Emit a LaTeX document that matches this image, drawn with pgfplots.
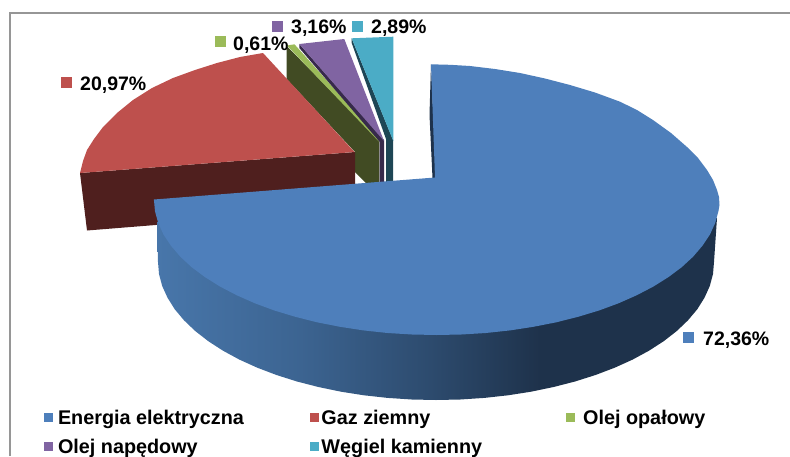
\documentclass[border=0pt]{standalone}
\usepackage{pgfplots}
\pgfplotsset{compat=1.18}
\usepackage{fontspec}
\setmainfont{Liberation Sans}
\definecolor{cblue}{RGB}{78,127,187}
\definecolor{cred}{RGB}{190,80,77}
\definecolor{cgreen}{RGB}{155,187,89}
\definecolor{cpurple}{RGB}{128,100,162}
\definecolor{cteal}{RGB}{75,172,198}
\definecolor{dred}{RGB}{79,31,30}
\definecolor{dgreen}{RGB}{65,75,35}
\definecolor{dpurple}{RGB}{55,42,75}
\definecolor{dteal}{RGB}{30,70,85}
\definecolor{dblue}{RGB}{30,50,75}
\pgfdeclarehorizontalshading{blueside}{100bp}{
  rgb(0bp)=(.282,.463,.667);
  rgb(25bp)=(.282,.463,.667);
  rgb(37.8bp)=(.235,.392,.569);
  rgb(49.4bp)=(.176,.294,.431);
  rgb(59.2bp)=(.118,.196,.294);
  rgb(100bp)=(.118,.196,.294)}
\newcommand{\lab}{\fontsize{19.5}{24}\selectfont\bfseries}
\newcommand{\leg}{\fontsize{19.8}{24}\selectfont\bfseries}
\begin{document}
\begin{tikzpicture}
\useasboundingbox (0,0) rectangle (790pt,456pt);
\begin{axis}[
  at={(0,0)},anchor=south west,
  width=790pt,height=456pt,scale only axis,
  xmin=0,xmax=790,ymin=0,ymax=456,y dir=reverse,
  hide axis,
  legend columns=3,
  legend cell align=left,
  legend style={at={(axis cs:44,410)},anchor=north west,draw=none,fill=none,
    inner sep=0pt,outer sep=0pt,
    font=\leg,
    nodes={inner xsep=0pt,inner ysep=0pt},
    /tikz/row sep=13pt,
    /tikz/column 1/.style={column sep=5pt},
    /tikz/column 2/.style={column sep=66pt},
    /tikz/column 3/.style={column sep=2.5pt},
    /tikz/column 4/.style={column sep=84pt},
    /tikz/column 5/.style={column sep=8pt}},
  legend image code/.code={\fill[#1,draw=none] (0pt,-4.5pt) rectangle (9pt,4.5pt);},
]
% frame
\addplot[forget plot,draw={rgb,255:red,150;green,150;blue,150},line width=1.3pt] coordinates {(10,456) (10,13) (790,13)};
% green wedge
\addplot[forget plot,fill=dgreen,draw=none] coordinates {(286.7,46) (379.3,140) (379.3,183) (366,183) (355,172) (355,152) (286.7,79)} --cycle;
\addplot[forget plot,fill=cgreen,draw=none] coordinates {(287,45.5) (294.5,44.3) (379.3,139) (379.3,142)} --cycle;
% purple wedge
\addplot[forget plot,fill=dpurple,draw=none] coordinates {(299.3,44) (384,140) (384,182) (379.5,182) (379.5,141.7) (299.3,48)} --cycle;
\addplot[forget plot,fill=cpurple,draw=none] coordinates {(299.3,44) (344.3,39) (384,141)} --cycle;
% teal wedge
\addplot[forget plot,fill=dteal,draw=none] coordinates {(351.7,38.3) (393,140) (393,181) (386,182) (386,139) (351.7,43)} --cycle;
\addplot[forget plot,fill=cteal,draw=none] coordinates {(351.7,38.3) (393.3,36.7) (393.3,141)} --cycle;
% red wedge
\addplot[forget plot,fill=dred,draw=none] coordinates {(80,173) (87,230.5) (355,209) (355,152)} --cycle;
\addplot[forget plot,fill=cred,draw=none] coordinates {(354.5,152) (263,53) (240,57) (217,63) (195,70) (173,78) (152,88) (133,100) (117,113) (103,127) (94,139) (87,150) (83,161) (80,173)} --cycle;
% blue wedge: notch wall, side wall, top
\addplot[forget plot,fill=dblue,draw=none] coordinates {(431,64.3) (429.5,115) (432.5,178) (436,178)} --cycle;
\addplot[forget plot,shading=blueside,draw=none] coordinates {(157,222) (158,262) (159,274) (162.2,286) (167.5,297.7) (174.7,309.2) (184,320.3) (195.2,331) (208.3,341.2) (223,350.7) (239.4,359.6) (257.3,367.7) (276.5,375) (297,381.5) (318.4,387) (341,391.7) (364,395.3) (387.6,397.9) (411.8,399.5) (436,400) (460.2,399.5) (484.4,397.9) (508,395.3) (531,391.7) (553.6,387) (575,381.5) (595.5,375) (614.7,367.7) (632.6,359.6) (649,350.7) (663.7,341.2) (676.8,331) (688,320.3) (697.3,309.2) (704.5,297.7) (709.8,286) (713,274) (714,262) (717,218)} --cycle;
\addplot[forget plot,fill=cblue,draw=none] coordinates {(435,177.5) (431,64.3) (450,64.8) (470,66) (495,69) (520,73) (545,78.5) (570,85) (595,92.5) (620,101.7) (637,110) (653,120) (671,133) (687,147) (698,158) (707,170) (713,180) (717,190) (719,197) (719.5,205) (718.4,211.3) (715.2,223) (709.9,234.6) (702.4,245.8) (693,256.8) (681.6,267.3) (668.3,277.2) (653.3,286.6) (636.6,295.3) (618.5,303.3) (599,310.5) (578.1,316.8) (556.3,322.3) (533.4,326.8) (510,330.4) (485.8,333) (461.3,334.5) (436.7,335) (412.1,334.5) (387.6,333) (363.4,330.4) (340,326.8) (317.1,322.3) (295.3,316.8) (274.4,310.5) (254.9,303.3) (236.8,295.3) (220.1,286.6) (205.1,277.2) (191.8,267.3) (180.4,256.8) (171,245.8) (163.5,234.6) (158.2,223) (155,211.3) (153.9,199.5)} --cycle;
% data label markers
\addplot[forget plot,only marks,mark=square*,mark size=5pt,mark options={fill=cblue,draw=cblue,line width=0pt}] coordinates {(688.5,337.5)};
\addplot[forget plot,only marks,mark=square*,mark size=5pt,mark options={fill=cred,draw=cred,line width=0pt}] coordinates {(66.7,82)};
\addplot[forget plot,only marks,mark=square*,mark size=5pt,mark options={fill=cgreen,draw=cgreen,line width=0pt}] coordinates {(220.5,41.7)};
\addplot[forget plot,only marks,mark=square*,mark size=5pt,mark options={fill=cpurple,draw=cpurple,line width=0pt}] coordinates {(277.5,26)};
\addplot[forget plot,only marks,mark=square*,mark size=5pt,mark options={fill=cteal,draw=cteal,line width=0pt}] coordinates {(357.5,26)};
% data labels
\node[anchor=base west,inner sep=0pt,font=\lab] at (axis cs:703,345) {72,36\%};
\node[anchor=base west,inner sep=0pt,font=\lab] at (axis cs:80,90) {20,97\%};
\node[anchor=base west,inner sep=0pt,font=\lab] at (axis cs:233,50) {0,61\%};
\node[anchor=base west,inner sep=0pt,font=\lab] at (axis cs:291,33) {3,16\%};
\node[anchor=base west,inner sep=0pt,font=\lab] at (axis cs:371,33) {2,89\%};
% legend
\addlegendimage{fill=cblue}\addlegendentry{Energia elektryczna}
\addlegendimage{fill=cred}\addlegendentry{Gaz ziemny}
\addlegendimage{fill=cgreen}\addlegendentry{Olej opałowy}
\addlegendimage{fill=cpurple}\addlegendentry{Olej napędowy}
\addlegendimage{fill=cteal}\addlegendentry{Węgiel kamienny}
\end{axis}
\end{tikzpicture}
\end{document}
